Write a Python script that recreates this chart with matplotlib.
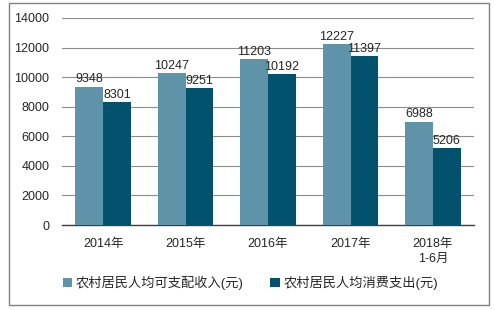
import matplotlib
matplotlib.use("Agg")
import matplotlib.pyplot as plt
import numpy as np
from matplotlib.patches import Rectangle

plt.rcParams['font.family'] = ['Liberation Sans', 'Noto Sans CJK SC', 'DejaVu Sans']

categories = ["2014年", "2015年", "2016年", "2017年", "2018年\n1-6月"]
income = [9348, 10247, 11203, 12227, 6988]
spending = [8301, 9251, 10192, 11397, 5206]
series_names = ["农村居民人均可支配收入(元)", "农村居民人均消费支出(元)"]
yticks = [0, 2000, 4000, 6000, 8000, 10000, 12000, 14000]

c1 = "#5E93AA"
c2 = "#02526D"
txt = "#262626"

fig = plt.figure(figsize=(4.95, 3.10), dpi=100)
ax = fig.add_axes([0.125, 0.274, 0.833, 0.668])

x = np.arange(len(categories))
w = 0.335
b1 = ax.bar(x - w/2, income, w, color=c1, label=series_names[0], zorder=3)
b2 = ax.bar(x + w/2, spending, w, color=c2, label=series_names[1], zorder=3)

for rect, v in zip(b1, income):
    ax.text(rect.get_x() + rect.get_width()/2, v + 100, str(v), ha='center', va='bottom',
            fontsize=9, color=txt, zorder=4)
for rect, v in zip(b2, spending):
    ax.text(rect.get_x() + rect.get_width()/2, v + 100, str(v), ha='center', va='bottom',
            fontsize=9, color=txt, zorder=4)

ax.set_ylim(0, 14000)
ax.set_xlim(-0.5, len(categories) - 0.5)
ax.set_yticks(yticks)
ax.set_yticklabels([str(t) for t in yticks], fontsize=9, color=txt)
ax.set_xticks(x)
ax.set_xticklabels(categories, fontsize=9, color=txt, linespacing=1.4)
ax.yaxis.grid(True, color="#8C8C8C", linewidth=0.8, zorder=0)
ax.set_axisbelow(True)
for s in ['top', 'right', 'left']:
    ax.spines[s].set_visible(False)
ax.spines['bottom'].set_color("#404040")
ax.spines['bottom'].set_linewidth(1.0)
ax.tick_params(axis='y', length=0, pad=9)
ax.tick_params(axis='x', length=0, pad=9)

fig.legend(handles=[b1, b2], labels=series_names, loc='center', bbox_to_anchor=(0.506, 0.087),
           ncol=2, frameon=False, fontsize=9.5, handlelength=0.7, handleheight=0.7,
           handletextpad=0.3, columnspacing=2.0, labelcolor=txt)

fig.patches.append(Rectangle((9/495, 1 - 305/310), 480/495, 302/310, transform=fig.transFigure,
                             fill=False, edgecolor="#808080", linewidth=1.0))

fig.savefig("out.png", dpi=100)
